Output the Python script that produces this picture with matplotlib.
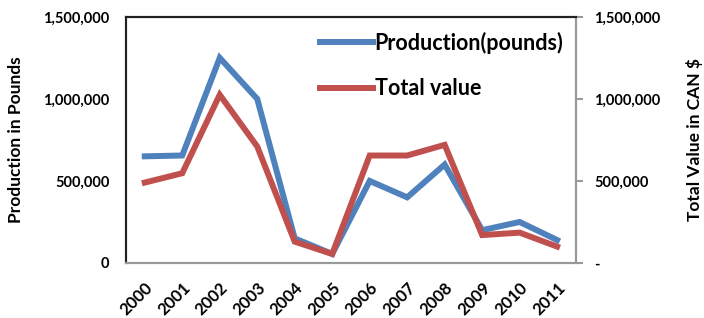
import matplotlib
matplotlib.use("Agg")
import matplotlib.pyplot as plt
from matplotlib.ticker import FuncFormatter

years = ["2000", "2001", "2002", "2003", "2004", "2005", "2006", "2007", "2008", "2009", "2010", "2011"]
production = [650000, 655000, 1250000, 1000000, 150000, 55000, 500000, 400000, 600000, 200000, 250000, 140000]
total_value = [490000, 547000, 1025000, 710000, 130000, 55000, 655000, 655000, 720000, 170000, 185000, 100000]

plt.rcParams['font.family'] = ['Lato', 'DejaVu Sans']
plt.rcParams['font.weight'] = 'bold'

fig = plt.figure(figsize=(7.04, 3.18), dpi=100)
ax = fig.add_axes([0.179, 0.173, 0.639, 0.774])
ax2 = ax.twinx()

x = list(range(len(years)))
blue = "#4F81BD"
red = "#C0504D"
l1, = ax.plot(x, production, color=blue, lw=4.3, solid_joinstyle='miter', label="Production(pounds)")
l2, = ax2.plot(x, total_value, color=red, lw=4.3, solid_joinstyle='miter', label="Total value")

ax.set_xlim(-0.5, len(years) - 0.5)
ax.set_ylim(0, 1500000)
ax2.set_ylim(0, 1500000)
ticks = [0, 500000, 1000000, 1500000]
ax.set_yticks(ticks)
ax2.set_yticks(ticks)
ax.yaxis.set_major_formatter(FuncFormatter(lambda v, p: f"{int(v):,}"))
ax2.yaxis.set_major_formatter(FuncFormatter(lambda v, p: "-" if v == 0 else f"{int(v):,}"))

ax.set_xticks(x)
ax.set_xticklabels(years, rotation=45, ha='right', rotation_mode='anchor', fontsize=12, fontweight='bold')
ax.tick_params(axis='x', length=0, pad=12)
ax.tick_params(axis='y', length=0, labelsize=10.5, pad=12)
ax2.tick_params(axis='y', length=5, width=1.5, color='#999999', labelsize=10.5, pad=8, direction='out')

for a in (ax, ax2):
    for s in a.spines.values():
        s.set_linewidth(1.5)
    a.spines['top'].set_color('#222222')
    a.spines['left'].set_color('#222222')
    a.spines['bottom'].set_color('#999999')
    a.spines['right'].set_color('#999999')

ax.set_ylabel("Production in Pounds", fontsize=12.5, fontweight='bold')
ax.yaxis.set_label_coords(-0.227, 0.5)
ax2.set_ylabel("Total Value in CAN $", fontsize=12.5, fontweight='bold', rotation=90)
ax2.yaxis.set_label_coords(1.244, 0.5)

leg = ax2.legend([l1, l2], ["Production(pounds)", "Total value"], loc='upper right',
                 bbox_to_anchor=(0.972, 0.94), frameon=False, handlelength=2.5, handletextpad=0.05,
                 labelspacing=1.15, borderaxespad=0.0, borderpad=0.0,
                 prop={'weight': 'bold', 'size': 15.5})

fig.savefig("out.png", dpi=100)
